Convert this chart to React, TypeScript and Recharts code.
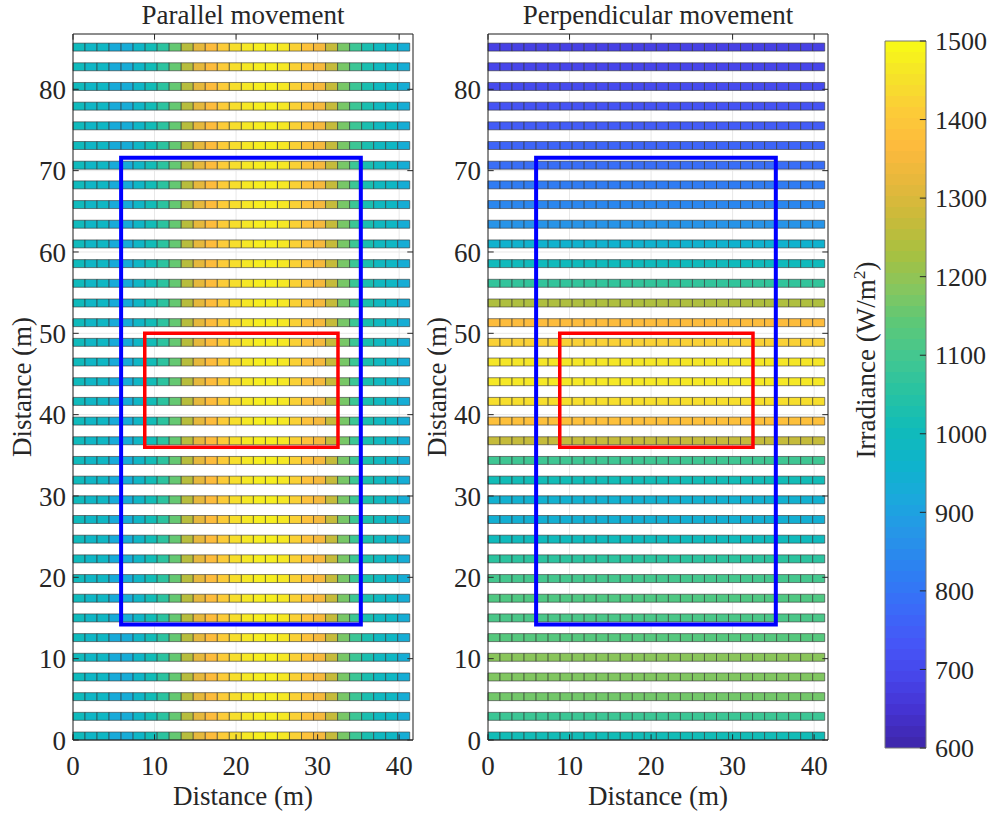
import React from 'react';
import {
  ScatterChart,
  XAxis,
  YAxis,
  CartesianGrid,
  ReferenceArea,
  ReferenceLine,
} from 'recharts';

// axis ticks
const xTicks = [0, 10, 20, 30, 40];
const yTicks = [0, 10, 20, 30, 40, 50, 60, 70, 80];
const cbTicks = [600, 700, 800, 900, 1000, 1100, 1200, 1300, 1400, 1500];

// irradiance (W/m2) per module along a row, parallel movement (same every row)
const parallelCells = [
  1000, 975, 980, 925, 930, 975, 1010, 1060, 1150, 1250, 1320, 1370, 1410, 1445,
  1465, 1475, 1475, 1465, 1420, 1385, 1350, 1270, 1170, 1085, 1025, 990, 980, 935,
];

// irradiance per row (bottom row first), perpendicular movement
const perpendicularRows = [
  1010, 1085, 1165, 1180, 1190, 1130, 1110, 1120, 1100, 1060, 1000, 945, 950, 1010,
  1090, 1270, 1380, 1445, 1465, 1460, 1420, 1370, 1240, 1070, 1000, 955, 870, 840,
  815, 785, 765, 745, 725, 705, 690, 680,
];

const blueBox = { x1: 5.9, x2: 35.3, y1: 14.2, y2: 71.6 };
const redBox = { x1: 8.8, x2: 32.5, y1: 36, y2: 50 };

// array geometry (m)
const ROWS = 36;
const CELL_W = 1.475;
const ROW_H = 0.98;
const ROW_PITCH = 2.42;
const X_MAX = 41.7;
const Y_MAX = 86.8;
const C_MIN = 600;
const C_MAX = 1500;

const FONT = '"Liberation Serif", "DejaVu Serif", serif';
const INK = '#262626';

// parula-like colormap stops
const parulaStops = [
  '#3e26a8', '#4531cf', '#4745ea', '#4557f7', '#3a6cf8', '#2d80f2', '#2794e8',
  '#1ba8dd', '#0fb3cc', '#10bbba', '#26c2a3', '#42c791', '#5cc878', '#86c65e',
  '#a8c040', '#c9ba3a', '#e6b83c', '#fdba3d', '#fccc38', '#f5e329', '#f9fb15',
];

function hexToRgb(h: string) {
  return [1, 3, 5].map((i) => parseInt(h.slice(i, i + 2), 16));
}

function parula(t: number) {
  const v = Math.max(0, Math.min(1, t)) * (parulaStops.length - 1);
  const i = Math.min(Math.floor(v), parulaStops.length - 2);
  const f = v - i;
  const a = hexToRgb(parulaStops[i]);
  const b = hexToRgb(parulaStops[i + 1]);
  const c = a.map((x, k) => Math.round(x + (b[k] - x) * f));
  return `rgb(${c[0]},${c[1]},${c[2]})`;
}

const colorOf = (v: number) => parula((v - C_MIN) / (C_MAX - C_MIN));

const txt = { fontFamily: FONT, fill: INK };

function makeTick(anchor: 'middle' | 'end' | 'start', dy: string, size: number) {
  return (p: any) => (
    <text
      x={p.x}
      y={p.y}
      dy={dy}
      textAnchor={anchor}
      fontSize={size}
      fontFamily={FONT}
      fill={INK}
      style={txt}
    >
      {p.payload.value}
    </text>
  );
}

const xLabel = (p: any) => {
  const vb = p.viewBox;
  return (
    <text
      x={vb.x + vb.width / 2}
      y={vb.y + vb.height - 11}
      textAnchor="middle"
      fontSize={27}
      fontFamily={FONT}
      fill={INK}
      style={txt}
    >
      Distance (m)
    </text>
  );
};

const yLabel = (p: any) => {
  const vb = p.viewBox;
  const x = vb.x + 31;
  const y = vb.y + vb.height / 2;
  return (
    <text
      x={x}
      y={y}
      transform={`rotate(-90 ${x} ${y})`}
      textAnchor="middle"
      fontSize={27}
      fontFamily={FONT}
      fill={INK}
      style={txt}
    >
      Distance (m)
    </text>
  );
};

function Panel({
  title,
  value,
  left,
}: {
  title: string;
  value: (row: number, col: number) => number;
  left: number;
}) {
  const cells: React.ReactNode[] = [];
  for (let r = 0; r < ROWS; r++) {
    for (let c = 0; c < parallelCells.length; c++) {
      cells.push(
        <ReferenceArea
          key={`c-${r}-${c}`}
          x1={c * CELL_W}
          x2={(c + 1) * CELL_W}
          y1={r * ROW_PITCH}
          y2={r * ROW_PITCH + ROW_H}
          fill={colorOf(value(r, c))}
          fillOpacity={1}
          stroke="#333"
          strokeOpacity={0.75}
          strokeWidth={0.8}
        />
      );
    }
  }

  const tl = 0.7;
  return (
    <div style={{ position: 'absolute', left, top: 0, width: 430, height: 816 }}>
      <div
        style={{
          position: 'absolute',
          left: 73,
          width: 340,
          top: 2,
          textAlign: 'center',
          fontSize: 27,
          lineHeight: '27px',
          color: INK,
          whiteSpace: 'nowrap',
        }}
      >
        {title}
      </div>
      <ScatterChart width={430} height={816} margin={{ top: 34, right: 17, bottom: 0, left: 0 }}>
        <CartesianGrid stroke="#e8e8e8" strokeWidth={1} />
        <XAxis
          type="number"
          dataKey="x"
          domain={[0, X_MAX]}
          ticks={xTicks}
          interval={0}
          allowDataOverflow
          tickLine={false}
          axisLine={false}
          tickSize={0}
          tickMargin={16}
          height={76}
          tick={makeTick('middle', '0.71em', 27)}
          label={{ content: xLabel }}
        />
        <YAxis
          type="number"
          dataKey="y"
          domain={[0, Y_MAX]}
          ticks={yTicks}
          interval={0}
          allowDataOverflow
          tickLine={false}
          axisLine={false}
          tickSize={0}
          tickMargin={7}
          width={73}
          tick={makeTick('end', '0.355em', 27)}
          label={{ content: yLabel }}
        />
        {cells}
        <ReferenceArea {...blueBox} fill="none" stroke="#0000ff" strokeWidth={4} />
        <ReferenceArea {...redBox} fill="none" stroke="#ff0000" strokeWidth={3.5} />
        {xTicks.map((t) => (
          <ReferenceLine key={`xb${t}`} segment={[{ x: t, y: 0 }, { x: t, y: tl }]} stroke={INK} />
        ))}
        {xTicks.map((t) => (
          <ReferenceLine key={`xt${t}`} segment={[{ x: t, y: Y_MAX }, { x: t, y: Y_MAX - tl }]} stroke={INK} />
        ))}
        {yTicks.map((t) => (
          <ReferenceLine key={`yl${t}`} segment={[{ x: 0, y: t }, { x: tl, y: t }]} stroke={INK} />
        ))}
        {yTicks.map((t) => (
          <ReferenceLine key={`yr${t}`} segment={[{ x: X_MAX, y: t }, { x: X_MAX - tl, y: t }]} stroke={INK} />
        ))}
        <ReferenceArea x1={0} x2={X_MAX} y1={0} y2={Y_MAX} fill="none" stroke={INK} strokeWidth={1} />
      </ScatterChart>
    </div>
  );
}

function ColorBar() {
  const bands = 64;
  const stops: React.ReactNode[] = [];
  for (let k = 0; k < bands; k++) {
    const col = parula((k + 0.5) / bands);
    stops.push(<stop key={`a${k}`} offset={k / bands} stopColor={col} />);
    stops.push(<stop key={`b${k}`} offset={(k + 1) / bands} stopColor={col} />);
  }
  return (
    <div style={{ position: 'absolute', left: 845, top: 0, width: 144, height: 816 }}>
      <ScatterChart width={144} height={816} margin={{ top: 41, right: 0, bottom: 68, left: 40 }}>
        <defs>
          <linearGradient id="parulaBar" x1="0" y1="1" x2="0" y2="0">
            {stops}
          </linearGradient>
        </defs>
        <XAxis type="number" dataKey="x" domain={[0, 1]} hide allowDataOverflow />
        <YAxis
          type="number"
          dataKey="y"
          orientation="right"
          domain={[C_MIN, C_MAX]}
          ticks={cbTicks}
          interval={0}
          allowDataOverflow
          tickLine={false}
          axisLine={false}
          tickSize={0}
          tickMargin={9}
          width={63}
          tick={makeTick('start', '0.355em', 26)}
        />
        <ReferenceArea
          x1={0}
          x2={1}
          y1={C_MIN}
          y2={C_MAX}
          fill="url(#parulaBar)"
          fillOpacity={1}
          stroke="none"
        />
        {cbTicks.map((t) => (
          <ReferenceLine key={`cb${t}`} segment={[{ x: 1, y: t }, { x: 0.85, y: t }]} stroke={INK} />
        ))}
        <ReferenceArea x1={0} x2={1} y1={C_MIN} y2={C_MAX} fill="none" stroke="#777" strokeWidth={1} />
      </ScatterChart>
      <div
        style={{
          position: 'absolute',
          left: 866 - 845 - 150,
          top: 360 - 15,
          width: 300,
          height: 30,
          lineHeight: '30px',
          textAlign: 'center',
          transform: 'rotate(-90deg)',
          fontSize: 27,
          color: INK,
          whiteSpace: 'nowrap',
        }}
      >
        Irradiance (W/m<sup style={{ fontSize: '0.65em', lineHeight: 0 }}>2</sup>)
      </div>
    </div>
  );
}

export default function App() {
  return (
    <div
      style={{
        position: 'absolute',
        left: 0,
        top: 0,
        width: 989,
        height: 816,
        background: '#fff',
        overflow: 'hidden',
        fontFamily: FONT,
      }}
    >
      <Panel title="Parallel movement" left={0} value={(_r, c) => parallelCells[c]} />
      <Panel title="Perpendicular movement" left={415} value={(r) => perpendicularRows[r]} />
      <ColorBar />
    </div>
  );
}
